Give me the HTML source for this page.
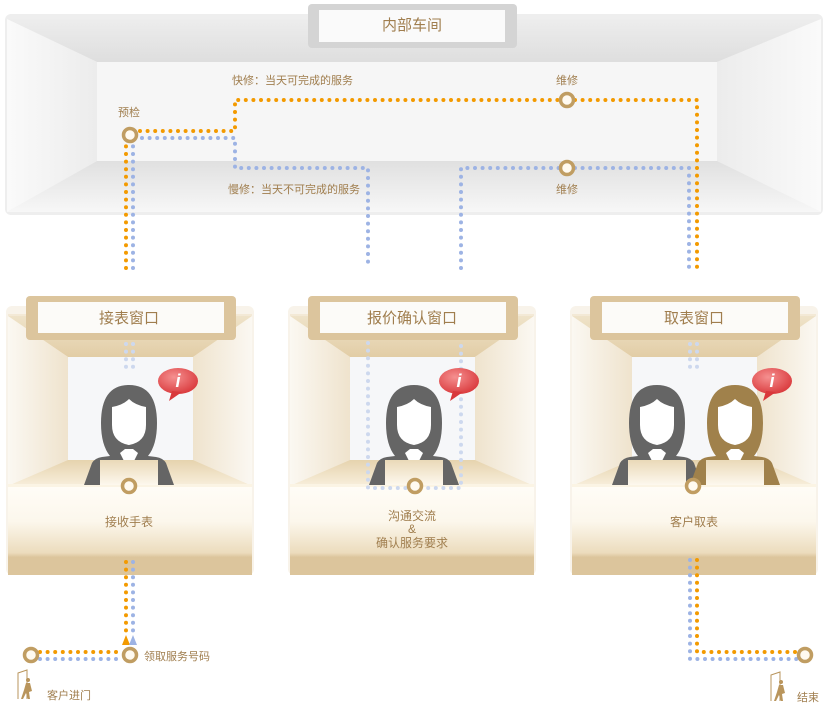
<!DOCTYPE html>
<html><head><meta charset="utf-8"><style>
html,body{margin:0;padding:0;background:#fff;width:830px;height:703px;overflow:hidden}
svg{display:block}
text{font-family:"Liberation Sans","Noto Sans CJK SC",sans-serif;fill:#a07e4e}
</style></head><body>
<svg width="830" height="703" viewBox="0 0 830 703" xmlns="http://www.w3.org/2000/svg">
<defs>
<linearGradient id="ceil" x1="0" y1="0" x2="0" y2="1"><stop offset="0" stop-color="#ededed"/><stop offset="1" stop-color="#dedede"/></linearGradient>
<linearGradient id="floor" x1="0" y1="0" x2="0" y2="1"><stop offset="0" stop-color="#e0e0e0"/><stop offset="1" stop-color="#f7f7f7"/></linearGradient>
<linearGradient id="sideL" x1="0" y1="0" x2="1" y2="0"><stop offset="0" stop-color="#fafafa"/><stop offset="1" stop-color="#ececec"/></linearGradient>
<linearGradient id="sideR" x1="1" y1="0" x2="0" y2="0"><stop offset="0" stop-color="#fafafa"/><stop offset="1" stop-color="#ececec"/></linearGradient>
<linearGradient id="ptop" x1="0" y1="0" x2="0" y2="1"><stop offset="0" stop-color="#efe3c9"/><stop offset="1" stop-color="#e2cda6"/></linearGradient>
<linearGradient id="pside" x1="0" y1="0" x2="1" y2="0"><stop offset="0" stop-color="#fbf8f2"/><stop offset="1" stop-color="#efe3cd"/></linearGradient>
<linearGradient id="psideR" x1="1" y1="0" x2="0" y2="0"><stop offset="0" stop-color="#fbf8f2"/><stop offset="1" stop-color="#efe3cd"/></linearGradient>
<linearGradient id="pfloor" x1="0" y1="0" x2="0" y2="1"><stop offset="0" stop-color="#e6d3ae"/><stop offset="1" stop-color="#f8efdc"/></linearGradient>
<linearGradient id="counter" x1="0" y1="0" x2="0" y2="1"><stop offset="0" stop-color="#fffdf7"/><stop offset="0.4" stop-color="#fcf7ec"/><stop offset="0.75" stop-color="#ecdcbd"/><stop offset="0.8" stop-color="#dcc59c"/><stop offset="1" stop-color="#dcc59c"/></linearGradient>
<linearGradient id="lap" x1="0" y1="0" x2="0" y2="1"><stop offset="0" stop-color="#ead9b8"/><stop offset="1" stop-color="#fdf8ee"/></linearGradient>
<radialGradient id="bub" cx="0.4" cy="0.35" r="0.7"><stop offset="0" stop-color="#f59090"/><stop offset="1" stop-color="#d9383b"/></radialGradient>
<g id="person">
<path d="M-45,100 L-37,78 Q-34,73 -27,72 L-19,71 Q-28,60 -28,38 Q-28,0 0,0 Q28,0 28,38 Q28,60 19,71 L27,72 Q34,73 37,78 L45,100 Z"/>
<path d="M-17,22 Q-6,20 0,14 Q6,20 17,22 L17,40 Q17,57 0,60 Q-17,57 -17,40Z" fill="#fff"/>
<path d="M-9,68 L0,86 L9,68 L4,64 L-4,64Z" fill="#fff"/>
<rect x="-29" y="75" width="58" height="25" fill="url(#lap)"/>
</g>
<g id="bubble">
<ellipse cx="0" cy="0" rx="20" ry="13" fill="url(#bub)"/>
<path d="M-6,10 L-9,20 L4,11Z" fill="#d9383b"/>
<text x="0" y="6" font-family="Liberation Serif,serif" font-style="italic" font-weight="bold" font-size="18" text-anchor="middle" style="fill:#fff">i</text>
</g>
<g id="booth">
<rect x="0" y="0" width="248" height="269" rx="6" fill="#f8f3ea"/>
<rect x="2" y="8" width="244" height="261" fill="#f3e9d6"/>
<polygon points="2,10 246,10 187,51 62,51" fill="url(#ptop)"/>
<polygon points="2,10 62,51 62,154 2,180" fill="url(#pside)"/>
<polygon points="246,10 187,51 187,154 246,180" fill="url(#psideR)"/>
<rect x="62" y="51" width="125" height="103" fill="#f6f7f9"/>
<polygon points="62,154 187,154 246,180 2,180" fill="url(#pfloor)"/>
<rect x="2" y="180" width="244" height="89" fill="url(#counter)"/>
<rect x="2" y="178" width="244" height="3" fill="#fbf4e4"/>
<rect x="20" y="-10" width="210" height="44" rx="4" fill="#dcc59d"/>
<rect x="32" y="-4" width="186" height="31" fill="#fcfbf8"/>
</g>
</defs>

<!-- top workshop -->
<rect x="5" y="14" width="818" height="201" rx="6" fill="#eeeeee"/>
<rect x="7" y="19" width="814" height="193" fill="#f0f0f0"/>
<polygon points="7,19 821,19 717,62 97,62" fill="url(#ceil)"/>
<polygon points="7,19 97,62 97,161 7,212" fill="url(#sideL)"/>
<polygon points="821,19 717,62 717,161 821,212" fill="url(#sideR)"/>
<rect x="97" y="62" width="620" height="99" fill="#f6f6f6"/>
<polygon points="97,161 717,161 821,212 7,212" fill="url(#floor)"/>
<rect x="308" y="4" width="209" height="44" rx="4" fill="#d4d4d4"/>
<rect x="319" y="10" width="186" height="32" fill="#fafafa"/>
<text x="412" y="30" font-size="15" text-anchor="middle">内部车间</text>

<text x="232" y="84" font-size="11">快修：当天可完成的服务</text>
<text x="118" y="116" font-size="11">预检</text>
<text x="556" y="84" font-size="11">维修</text>
<text x="556" y="193" font-size="11">维修</text>
<text x="228" y="193" font-size="11">慢修：当天不可完成的服务</text>

<!-- booths -->
<use href="#booth" x="6" y="306"/>
<use href="#booth" x="288" y="306"/>
<use href="#booth" x="570" y="306"/>
<text x="129" y="323" font-size="15" text-anchor="middle">接表窗口</text>
<text x="412" y="323" font-size="15" text-anchor="middle">报价确认窗口</text>
<text x="694" y="323" font-size="15" text-anchor="middle">取表窗口</text>

<g fill="none" stroke-linecap="round" stroke-width="4" stroke-dasharray="0 7.6">
<!-- faint booth lines -->
<g stroke="#cdd8ee">
<path d="M126,344V374M133,344V374"/>
<path d="M368,343V488H461V343"/>
<path d="M690,344V374M697,344V374"/>
</g>
<g stroke="#f39a00">
<path d="M126,268V145"/>
<path d="M140,131H235V100H560"/>
<path d="M575,100H697V268"/>
<path d="M126,562V636"/>
<path d="M40,652H122"/>
<path d="M697,560V652H797"/>
</g>
<g stroke="#9db3e4">
<path d="M133,268V145"/>
<path d="M142,138H235V168H368V268"/>
<path d="M461,268V168H560"/>
<path d="M575,168H689V268"/>
<path d="M133,562V636"/>
<path d="M40,659H122"/>
<path d="M690,560V659H797"/>
</g>
</g>
<polygon points="122,645 126,635 130,645" fill="#f39a00"/>
<polygon points="129,645 133,635 137,645" fill="#9db3e4"/>

<!-- people -->
<g fill="#656565"><use href="#person" x="129" y="385"/></g>
<g fill="#656565"><use href="#person" x="414" y="385"/></g>
<g fill="#656565"><use href="#person" x="657" y="385"/></g>
<g fill="#a0814b"><use href="#person" x="735" y="385"/></g>
<use href="#bubble" x="178" y="381"/>
<use href="#bubble" x="459" y="381"/>
<use href="#bubble" x="772" y="381"/>

<!-- nodes -->
<g fill="#fffaf0" stroke="#c09d62" stroke-width="3.5">
<circle cx="130" cy="135" r="6.5"/>
<circle cx="567" cy="100" r="6.5"/>
<circle cx="567" cy="168" r="6.5"/>
<circle cx="129" cy="486" r="6.5"/>
<circle cx="415" cy="486" r="6.5"/>
<circle cx="693" cy="486" r="6.5"/>
<circle cx="130" cy="655" r="6.5"/>
<circle cx="31" cy="655" r="6.5"/>
<circle cx="805" cy="655" r="6.5"/>
</g>

<text x="129" y="526" font-size="12" text-anchor="middle">接收手表</text>
<text x="412" y="520" font-size="12" text-anchor="middle">沟通交流</text>
<text x="412" y="533" font-size="12" text-anchor="middle">&amp;</text>
<text x="412" y="547" font-size="12" text-anchor="middle">确认服务要求</text>
<text x="694" y="526" font-size="12" text-anchor="middle">客户取表</text>
<text x="144" y="660" font-size="11">领取服务号码</text>
<text x="47" y="699" font-size="11">客户进门</text>
<text x="797" y="701" font-size="11">结束</text>

<!-- walker icons -->
<g stroke="#b9955c" fill="none" stroke-width="1">
<path d="M18,699V673L27,670V699"/>
<path d="M771,701V675L780,672V701"/>
</g>
<g fill="#b9955c">
<circle cx="28" cy="680" r="2"/><path d="M26,683h4l2,8-3,1 1,7h-2l-2-6-3,6h-2l3-9z"/>
<circle cx="781" cy="682" r="2"/><path d="M779,685h4l2,8-3,1 1,7h-2l-2-6-3,6h-2l3-9z"/>
</g>
</svg>
</body></html>
